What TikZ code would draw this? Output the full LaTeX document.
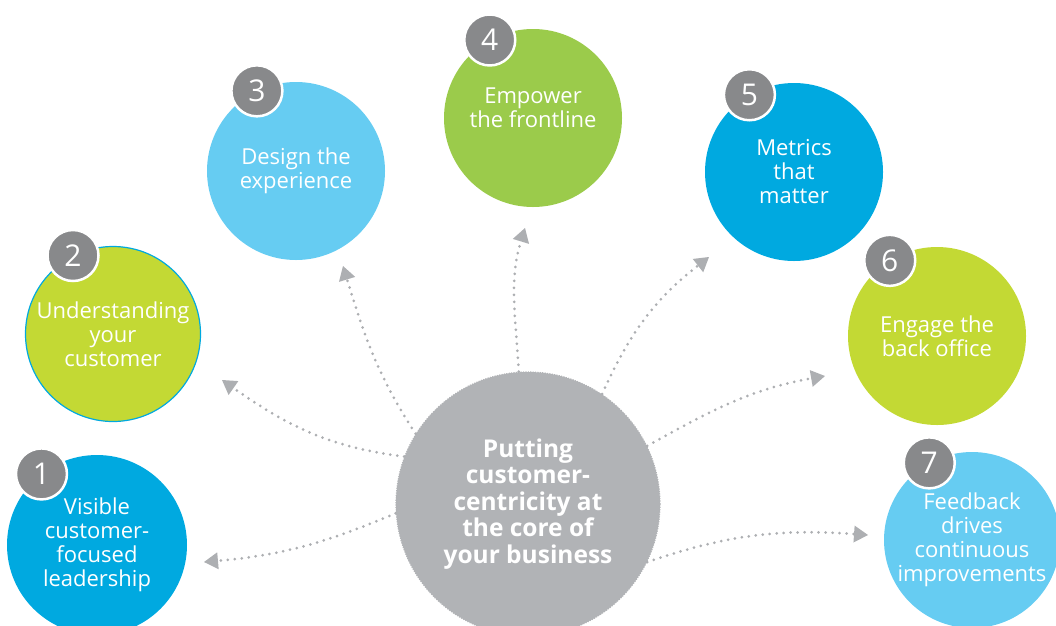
\documentclass[tikz,border=0pt]{standalone}
\usepackage{fontspec}
\setmainfont{Open Sans}
\usetikzlibrary{arrows.meta}
\definecolor{deepblue}{RGB}{0,169,224}
\definecolor{skyblue}{RGB}{102,204,242}
\definecolor{leafgreen}{RGB}{155,203,75}
\definecolor{limegreen}{RGB}{195,217,52}
\definecolor{hubgray}{RGB}{177,179,182}
\definecolor{badgegray}{RGB}{136,137,139}
\definecolor{linkgray}{RGB}{173,175,178}
\newcommand{\badge}[2]
{   \node[badge] (b#1) at (c#1.#2) {#1};
}
\newcommand{\link}[5]
{   \draw[link] (hub.#2) to[out=#3,in=#4] (#5);
}

\begin{document}
\begin{tikzpicture}[x=1pt,y=-1pt,
  topic/.style={circle, inner sep=0pt, minimum size=178pt, text=white, align=center,
    font=\fontsize{22}{24}\selectfont},
  badge/.style={circle, fill=badgegray, draw=white, line width=2.5pt, minimum size=51pt,
    inner sep=0pt, text=white, font=\fontsize{30}{30}\selectfont},
  link/.style={draw=linkgray, line width=3pt, line cap=round, dash pattern=on 0pt off 7pt,
    -{Triangle[length=14pt,width=17pt,line width=0pt]}}]

 \useasboundingbox (0,0) rectangle (1056,625);
 \clip (0,0) rectangle (1056,625);

 \coordinate (t1) at (204,562);
 \coordinate (t2) at (222,380);
 \coordinate (t3) at (343,266);
 \coordinate (t4) at (525,228);
 \coordinate (t5) at (709,257);
 \coordinate (t6) at (825,376);
 \coordinate (t7) at (868,535);

 \node[circle, minimum size=264pt, inner sep=0pt, fill=hubgray, draw=hubgray, line width=1.2pt,
   dash pattern=on 1.2pt off 1.2pt, text=white, align=center,
   font=\bfseries\fontsize{24.5}{26.5}\selectfont] (hub) at (528,504)
   {Putting\\customer-\\centricity at\\the core of\\your business};

 \link{1}{184}{203}{5}{t1}
 \link{2}{159}{173}{325}{t2}
 \link{3}{148}{123}{287}{t3}
 \link{4}{94}{93}{253}{t4}
 \link{5}{56}{66}{218}{t5}
 \link{6}{26}{29}{190}{t6}
 \link{7}{334}{19}{176}{t7}

 \node[topic, fill=deepblue, minimum size=180pt] (c1) at (97,545) {Visible\\customer-\\focused\\leadership};
 \node[topic, fill=limegreen, draw=deepblue, line width=1.2pt, minimum size=175pt] (c2) at (113,334) {Understanding\\your\\customer};
 \node[topic, fill=skyblue] (c3) at (296,171) {Design the\\experience};
 \node[topic, fill=leafgreen] (c4) at (533,118) {Empower\\the frontline\\[-3pt]\mbox{}};
 \node[topic, fill=deepblue] (c5) at (794,172) {Metrics\\that\\matter};
 \node[topic, fill=limegreen] (c6) at (937,336) {Engage the\\back office};
 \node[topic, fill=skyblue, minimum size=176pt] (c7) at (972,540) {Feedback\\drives\\continuous\\improvements};

 \badge{1}{128}
 \badge{2}{117}
 \badge{3}{116}
 \badge{4}{119}
 \badge{5}{120}
 \badge{6}{122}
 \badge{7}{119}

\end{tikzpicture}
\end{document}
